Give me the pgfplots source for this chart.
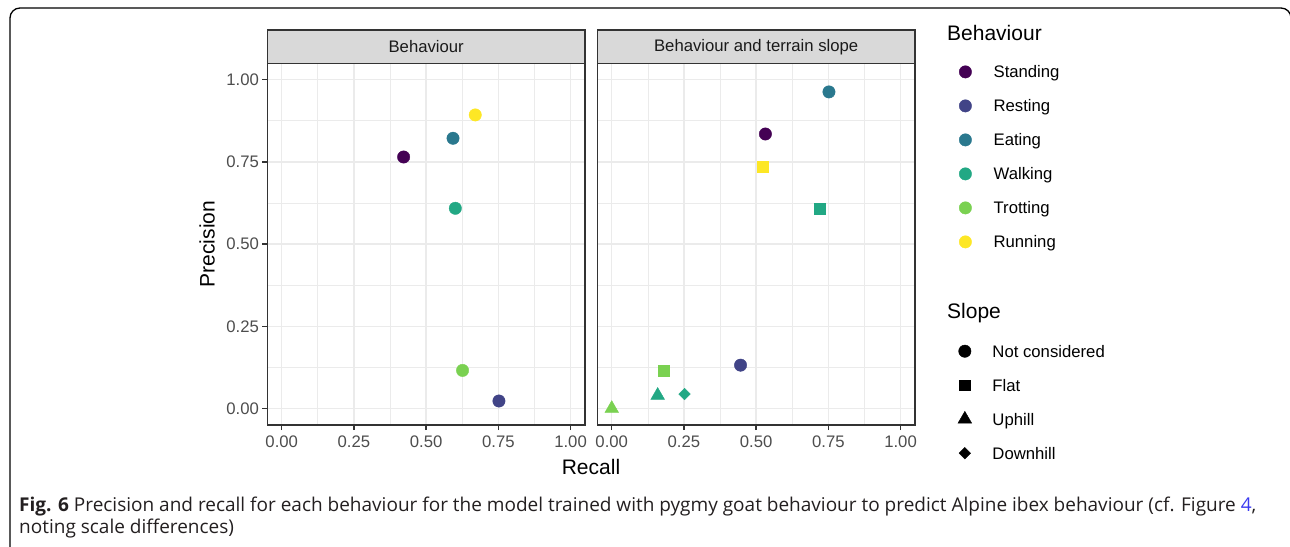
\documentclass[border=0pt]{standalone}
\usepackage{pgfplots}
\pgfplotsset{compat=1.18}
\usepackage{fontspec}
\setmainfont{Liberation Sans}
\newfontfamily\capfont{Open Sans}
\definecolor{vStand}{HTML}{440154}
\definecolor{vRest}{HTML}{414487}
\definecolor{vEat}{HTML}{2A788E}
\definecolor{vWalk}{HTML}{22A884}
\definecolor{vTrot}{HTML}{7AD151}
\definecolor{vRun}{HTML}{FDE725}
\definecolor{grey10}{HTML}{1A1A1A}
\definecolor{grey20}{HTML}{333333}
\definecolor{grey30}{HTML}{4D4D4D}
\definecolor{grey85}{HTML}{D9D9D9}
\definecolor{grey92}{HTML}{EBEBEB}
\definecolor{capblue}{HTML}{3B3BF0}
\definecolor{captext}{HTML}{231F20}

\pgfplotsset{
  panel/.style={
    scale only axis, width=317.7pt, height=361.7pt,
    xmin=-0.05, xmax=1.05, ymin=-0.05, ymax=1.05,
    xtick={0,0.25,0.5,0.75,1}, ytick={0,0.25,0.5,0.75,1},
    minor xtick={0.125,0.375,0.625,0.875},
    minor ytick={0.125,0.375,0.625,0.875},
    xticklabels={0.00,0.25,0.50,0.75,1.00},
    yticklabels={0.00,0.25,0.50,0.75,1.00},
    grid=both,
    major grid style={grey92, line width=1.4pt},
    minor grid style={grey92, line width=0.7pt},
    axis line style={grey20, line width=1.6pt},
    tick align=outside,
    xtick pos=bottom, ytick pos=left,
    major tick length=5.2pt, minor tick length=0pt,
    tick style={grey20, line width=1.4pt},
    ticklabel style={font=\fontsize{16.7}{20}\selectfont, text=grey30, inner sep=3pt},
    xticklabel style={inner sep=5pt},
    clip=false,
  },
  circ/.style={only marks, mark=*, mark size=6.2pt},
  sq/.style={only marks, mark=square*, mark size=5.4pt},
  tri/.style={only marks, mark=triangle*, mark size=7.9pt},
  dia/.style={only marks, mark=square*, mark size=4.1pt, mark options={rotate=45}},
  legaxis/.style={
    hide axis, scale only axis, width=100pt, height=100pt,
    xmin=0, xmax=1, ymin=0, ymax=1, anchor=north west,
    legend cell align=left,
    legend image code/.code={\draw[##1] plot coordinates {(0pt,0pt)};},
    legend style={at={(0,1)}, anchor=north west, draw=none, fill=none,
      inner sep=0pt, row sep=16pt, column sep=22pt,
      font=\fontsize{16.7}{20}\selectfont,
      nodes={inner sep=0pt, text height=15pt, text depth=3pt}},
  },
}

\begin{document}
\begin{tikzpicture}
\path[use as bounding box] (0pt,0pt) rectangle (1290pt,-546pt);
% outer frame
\draw[line width=1.3pt, rounded corners=10pt] (10pt,-550pt) -- (10pt,-8pt) -- (1291pt,-8pt) -- (1291pt,-60pt);

% strips
\draw[fill=grey85, draw=grey20, line width=1.6pt] (267.3pt,-30pt) rectangle (585pt,-63.3pt);
\node[font=\fontsize{16.7}{20}\selectfont, text=grey10] at (426.2pt,-46.7pt) {Behaviour};
\draw[fill=grey85, draw=grey20, line width=1.6pt] (597.3pt,-30pt) rectangle (915pt,-63.3pt);
\node[font=\fontsize{16.7}{20}\selectfont, text=grey10] at (756.2pt,-46.7pt) {Behaviour and terrain slope};

% panel 1
\begin{axis}[panel, at={(267.3pt,-425pt)}, anchor=south west]
\addplot[circ, color=vStand] coordinates {(0.422,0.765)};
\addplot[circ, color=vRest] coordinates {(0.752,0.023)};
\addplot[circ, color=vEat] coordinates {(0.593,0.822)};
\addplot[circ, color=vWalk] coordinates {(0.601,0.609)};
\addplot[circ, color=vTrot] coordinates {(0.626,0.116)};
\addplot[circ, color=vRun] coordinates {(0.670,0.893)};
\end{axis}

% panel 2
\begin{axis}[panel, at={(597.3pt,-425pt)}, anchor=south west,
  yticklabels={}, ytick style={draw=none}]
\addplot[circ, color=vStand] coordinates {(0.532,0.835)};
\addplot[circ, color=vRest] coordinates {(0.446,0.132)};
\addplot[circ, color=vEat] coordinates {(0.752,0.963)};
\addplot[sq, color=vWalk] coordinates {(0.720,0.609)};
\addplot[sq, color=vTrot] coordinates {(0.179,0.116)};
\addplot[sq, color=vRun] coordinates {(0.522,0.735)};
\addplot[tri, color=vWalk] coordinates {(0.159,0.040)};
\addplot[tri, color=vTrot] coordinates {(0.0,0.0)};
\addplot[dia, color=vWalk] coordinates {(0.252,0.044)};
\end{axis}

% axis titles
\node[font=\fontsize{21}{25}\selectfont, text=black] at (591pt,-467pt) {Recall};
\node[font=\fontsize{21}{25}\selectfont, text=black, rotate=90] at (207pt,-244pt) {Precision};

% legend titles
\node[font=\fontsize{21}{25}\selectfont, anchor=west, inner sep=0pt] at (947pt,-33pt) {Behaviour};
\node[font=\fontsize{21}{25}\selectfont, anchor=west, inner sep=0pt] at (947pt,-313pt) {Slope};

% legend: behaviour
\begin{axis}[legaxis, at={(959pt,-62.7pt)}]
\addlegendimage{circ, color=vStand}\addlegendentry{Standing}
\addlegendimage{circ, color=vRest}\addlegendentry{Resting}
\addlegendimage{circ, color=vEat}\addlegendentry{Eating}
\addlegendimage{circ, color=vWalk}\addlegendentry{Walking}
\addlegendimage{circ, color=vTrot}\addlegendentry{Trotting}
\addlegendimage{circ, color=vRun}\addlegendentry{Running}
\end{axis}

% legend: slope
\begin{axis}[legaxis, at={(957.8pt,-342pt)}, legend style={column sep=20.8pt}]
\addlegendimage{circ, color=black}\addlegendentry{Not considered}
\addlegendimage{sq, color=black}\addlegendentry{Flat}
\addlegendimage{tri, color=black}\addlegendentry{Uphill}
\addlegendimage{dia, color=black}\addlegendentry{Downhill}
\end{axis}

% caption
\node[anchor=base west, inner sep=0pt, font=\capfont\fontsize{19}{23}\selectfont, text=captext] at (19pt,-511pt)
  {\textbf{Fig. 6} Precision and recall for each behaviour for the model trained with pygmy goat behaviour to predict Alpine ibex behaviour (cf. Figure \textcolor{capblue}{4},};
\node[anchor=base west, inner sep=0pt, font=\capfont\fontsize{19}{23}\selectfont, text=captext] at (19pt,-533pt)
  {noting scale differences)};
\end{tikzpicture}
\end{document}
